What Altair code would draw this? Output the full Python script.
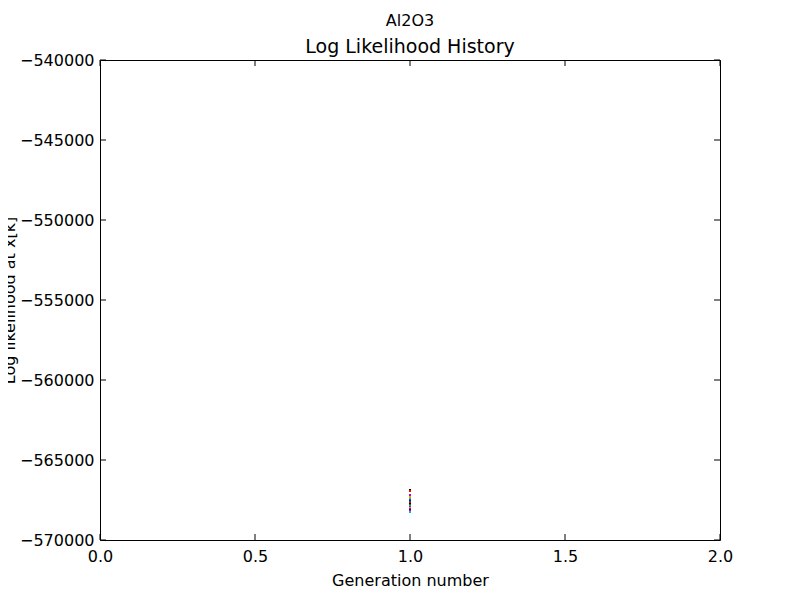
import pandas as pd
import altair as alt

# log likelihood of each member at generation 1
gen = [1.0] * 18
loglik = [-566875, -566940, -567190, -567310, -567440, -567500, -567560, -567625, -567690,
          -567750, -567810, -567875, -567940, -568000, -568060, -568125, -568190, -568250]
member = ["k", "r", "m", "y", "c", "m2", "b", "g", "r2",
          "k2", "g2", "c2", "m3", "y2", "r3", "b2", "m4", "c3"]
member_colors = {"b": "#0000ff", "g": "#008000", "r": "#ff0000", "c": "#00bfbf",
                 "m": "#bf00bf", "y": "#bfbf00", "k": "#000000"}

x_ticks = [0.0, 0.5, 1.0, 1.5, 2.0]
y_ticks = [-570000, -565000, -560000, -555000, -550000, -545000, -540000]

W, H = 620, 480
FONT = "DejaVu Sans"

df = pd.DataFrame({"gen": gen, "loglik": loglik, "member": member})
dom = list(df["member"])
rng = [member_colors[m[0]] for m in dom]

xs = alt.Scale(domain=[0, 2], nice=False, zero=False)
ys = alt.Scale(domain=[-570000, -540000], nice=False, zero=False)

pts = alt.Chart(df).mark_square(size=4, opacity=1).encode(
    x=alt.X("gen:Q", scale=xs, title="Generation number",
            axis=alt.Axis(values=x_ticks, format=".1f", ticks=False, grid=False,
                          labelFlush=False, labelPadding=8, titlePadding=8, domain=False)),
    y=alt.Y("loglik:Q", scale=ys, title="Log likelihood at x[k]",
            axis=alt.Axis(values=y_ticks, format="d", ticks=False, grid=False,
                          labelFlush=False, labelPadding=6, titleX=-83, domain=False)),
    color=alt.Color("member:N", scale=alt.Scale(domain=dom, range=rng), legend=None),
)

xt = pd.DataFrame({"v": x_ticks})
yt = pd.DataFrame({"v": y_ticks})
tick_bottom = alt.Chart(xt).mark_rule(color="black").encode(
    x=alt.X("v:Q", scale=xs), y=alt.value(H), y2=alt.value(H - 6))
tick_top = alt.Chart(xt).mark_rule(color="black").encode(
    x=alt.X("v:Q", scale=xs), y=alt.value(0), y2=alt.value(6))
tick_left = alt.Chart(yt).mark_rule(color="black").encode(
    y=alt.Y("v:Q", scale=ys), x=alt.value(0), x2=alt.value(6))
tick_right = alt.Chart(yt).mark_rule(color="black").encode(
    y=alt.Y("v:Q", scale=ys), x=alt.value(W), x2=alt.value(W - 6))

chart = alt.layer(pts, tick_bottom, tick_top, tick_left, tick_right).properties(
    width=W, height=H,
    autosize="none",
    padding={"left": 92, "top": 52, "right": 72, "bottom": 52},
    title=alt.TitleParams(text="Al2O3", subtitle="Log Likelihood History",
                          fontSize=16, fontWeight="normal", font=FONT,
                          subtitleFontSize=19, subtitleFont=FONT, subtitleColor="black",
                          subtitlePadding=9, anchor="middle", offset=-5),
).configure_view(
    stroke="black", strokeWidth=1
).configure_axis(
    labelFont=FONT, titleFont=FONT, labelFontSize=16, titleFontSize=16,
    labelColor="black", titleColor="black", titleFontWeight="normal"
)

chart.save("out.html", embed_options={"renderer": "svg", "actions": False})
